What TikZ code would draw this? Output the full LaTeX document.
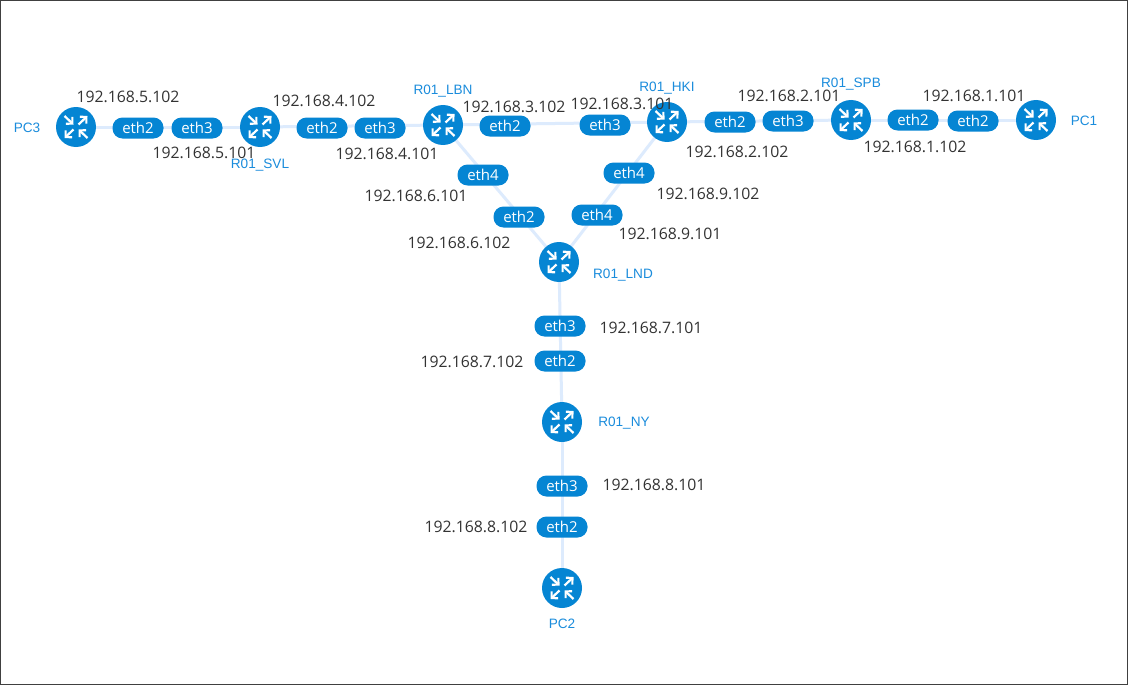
\documentclass[tikz,border=0pt]{standalone}
\usepackage{fontspec}
\setmainfont{Open Sans}
\newfontfamily\lblfont{Liberation Sans}
\usetikzlibrary{arrows.meta}
\definecolor{netblue}{HTML}{0585D3}
\definecolor{linkblue}{HTML}{DDEBFD}
\definecolor{iptext}{HTML}{333333}
\definecolor{nameblue}{HTML}{1A8CDC}
\tikzset{
  x=1pt,y=-1pt,
  routerdot/.style={circle,fill=netblue,minimum size=40pt,inner sep=0pt},
  ifpill/.style={rounded corners=10pt,fill=netblue,text=white,minimum width=51pt,minimum height=21pt,inner sep=0pt,font=\fontsize{15}{15}\selectfont},
  iplabel/.style={text=iptext,inner sep=0pt,font=\fontsize{15.8}{16}\selectfont},
  namelabel/.style={text=nameblue,inner sep=0pt,font=\lblfont\fontsize{13.6}{14}\selectfont},
  linkline/.style={draw=linkblue,line width=3pt},
  glyph/.style={draw=white,line width=2.2pt,-{Straight Barb[length=4.5pt,width=9.5pt,line width=2.2pt]}},
}
\newcommand{\routerat}[3]{%
  \node[routerdot] (#1) at (#2,#3) {};
  \draw[glyph] ([shift={(-11.5,-11)}]#1.center) -- ([shift={(-2.5,-2.5)}]#1.center);
  \draw[glyph] ([shift={(2.5,-2.5)}]#1.center) -- ([shift={(11.5,-11)}]#1.center);
  \draw[glyph] ([shift={(-2.5,2.5)}]#1.center) -- ([shift={(-11.5,11)}]#1.center);
  \draw[glyph] ([shift={(11.5,11)}]#1.center) -- ([shift={(2.5,2.5)}]#1.center);
}
\begin{document}
\begin{tikzpicture}
\useasboundingbox (0,0) rectangle (1128,685);
\draw[draw=black!75,line width=1pt,fill=white] (0.5,0.5) rectangle (1127.5,684.5);
% anchors for routers (links are drawn first)
\foreach \n/\x/\y in {pcc/76/127,svl/260/127,lbn/443/125,hki/667/122,spb/851/120,pca/1036/120,lnd/559/262,ny/562/422,pcb/562/588}
  \coordinate (c\n) at (\x,\y);
\draw[linkline] (cpcc) -- (csvl);
\draw[linkline] (csvl) -- (clbn);
\draw[linkline] (clbn) -- (chki);
\draw[linkline] (chki) -- (cspb);
\draw[linkline] (cspb) -- (cpca);
\draw[linkline] (clbn) -- (clnd);
\draw[linkline] (chki) -- (clnd);
\draw[linkline] (clnd) -- (cny);
\draw[linkline] (cny) -- (cpcb);
\routerat{pcc}{76}{127}
\routerat{svl}{260}{127}
\routerat{lbn}{443}{125}
\routerat{hki}{667}{122}
\routerat{spb}{851}{120}
\routerat{pca}{1036}{120}
\routerat{lnd}{559}{262}
\routerat{ny}{562}{422}
\routerat{pcb}{562}{588}
% interface pills
\foreach \i/\t/\x/\y in {a/eth2/138/128,b/eth3/197/128,c/eth2/322/128,d/eth3/380/128,e/eth2/505/126,f/eth3/605/125,g/eth2/730/122,h/eth3/788/121,i/eth2/913/120,j/eth2/973/121,k/eth4/483/175,l/eth2/519/217,m/eth4/629/173,n/eth4/597/215,o/eth3/560/326,p/eth2/560/361,q/eth3/562/486,r/eth2/562/527}
  \node[ifpill] (pill\i) at (\x,\y) {\t};
% addresses
\foreach \i/\t/\x/\y in {a/192.168.5.102/128/97,b/192.168.5.101/204/153,c/192.168.4.102/324/101,d/192.168.4.101/387/154,e/192.168.3.102/514/107,f/192.168.3.101/622/104,g/192.168.2.101/789/96,h/192.168.2.102/737/152,i/192.168.1.101/974/96,j/192.168.1.102/915/147,k/192.168.6.101/416/196,l/192.168.6.102/459/243,m/192.168.9.102/708/194,n/192.168.9.101/670/234,o/192.168.7.101/651/328,p/192.168.7.102/472/362,q/192.168.8.101/654/485,r/192.168.8.102/476/527}
  \node[iplabel] (ip\i) at (\x,\y) {\t};
% names
\foreach \i/\t/\x/\y in {a/PC3/27/128,b/R01\_SVL/260/165,c/R01\_LBN/443/91,d/R01\_HKI/667/88,e/R01\_SPB/851/84,f/PC1/1084/121,g/R01\_LND/623/275,h/R01\_NY/624/423,i/PC2/562/624}
  \node[namelabel] (name\i) at (\x,\y) {\t};
\end{tikzpicture}
\end{document}
